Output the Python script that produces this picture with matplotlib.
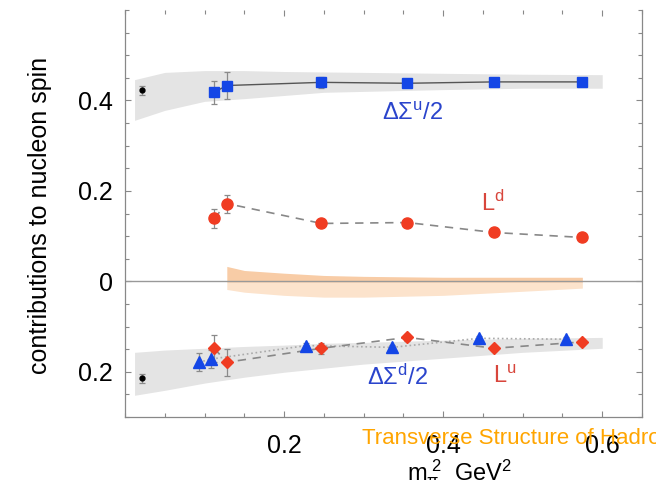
import matplotlib
matplotlib.use("Agg")
import matplotlib.pyplot as plt
from matplotlib.ticker import FixedLocator, MultipleLocator

plt.rcParams['font.family'] = ['Liberation Sans', 'DejaVu Sans']
plt.rcParams['mathtext.fontset'] = 'custom'
plt.rcParams['mathtext.rm'] = 'Liberation Sans'
plt.rcParams['mathtext.it'] = 'Liberation Sans:italic'

# ---- data ----
mpi2 = [0.112, 0.128, 0.247, 0.355, 0.464, 0.575]
sigma_u = [0.418, 0.433, 0.440, 0.438, 0.441, 0.441]
sigma_u_err = [0.025, 0.030, 0.012, 0.006, 0.006, 0.006]
L_d = [0.139, 0.172, 0.128, 0.130, 0.108, 0.097]
L_d_err = [0.020, 0.020, 0.006, 0.006, 0.006, 0.006]

mpi2_tri = [0.093, 0.108, 0.228, 0.336, 0.445, 0.555]
sigma_d = [-0.179, -0.172, -0.142, -0.146, -0.126, -0.128]
sigma_d_err = [0.020, 0.020, 0.006, 0.006, 0.006, 0.006]
L_u = [-0.148, -0.179, -0.148, -0.124, -0.148, -0.134]
L_u_err = [0.030, 0.030, 0.012, 0.008, 0.006, 0.006]

exp_x = [0.022, 0.022]
exp_y = [0.422, -0.214]
exp_err = [0.010, 0.010]

band_u_x = [0.012, 0.05, 0.1, 0.15, 0.2, 0.25, 0.3, 0.4, 0.5, 0.6]
band_u_hi = [0.446, 0.462, 0.466, 0.466, 0.464, 0.463, 0.462, 0.460, 0.458, 0.457]
band_u_lo = [0.356, 0.378, 0.398, 0.404, 0.411, 0.418, 0.420, 0.424, 0.427, 0.427]

band_d_x = [0.012, 0.05, 0.1, 0.15, 0.2, 0.25, 0.3, 0.4, 0.5, 0.6]
band_d_hi = [-0.157, -0.152, -0.148, -0.144, -0.141, -0.137, -0.135, -0.130, -0.126, -0.124]
band_d_lo = [-0.252, -0.241, -0.225, -0.212, -0.201, -0.192, -0.183, -0.170, -0.157, -0.148]

band_L_x = [0.128, 0.15, 0.2, 0.25, 0.3, 0.4, 0.5, 0.575]
band_L_hi = [0.033, 0.024, 0.018, 0.013, 0.011, 0.009, 0.009, 0.009]
band_L_mid = [-0.002, -0.002, -0.002, -0.002, -0.002, -0.002, -0.002, -0.002]
band_L_lo = [-0.018, -0.024, -0.031, -0.035, -0.035, -0.031, -0.022, -0.015]

yticks = [0.4, 0.2, 0.0, -0.2]
ytick_labels = ["0.4", "0.2", "0", "0.2"]
xticks = [0.2, 0.4, 0.6]
xtick_labels = ["0.2", "0.4", "0.6"]

# ---- figure ----
fig = plt.figure(figsize=(6.56, 4.8), dpi=100)
ax = fig.add_axes([125/656, 63/480, 517/656, 407/480])
ax.set_xlim(0, 0.65)
ax.set_ylim(-0.30, 0.60)

ax.fill_between(band_u_x, band_u_lo, band_u_hi, color='#e4e4e4', lw=0, zorder=1)
ax.fill_between(band_d_x, band_d_lo, band_d_hi, color='#e4e4e4', lw=0, zorder=1)
ax.fill_between(band_L_x, band_L_lo, band_L_mid, color='#fce3cc', lw=0, zorder=1)
ax.fill_between(band_L_x, band_L_mid, band_L_hi, color='#f8cca6', lw=0, zorder=1)

ax.axhline(0, color='#999999', lw=1.0, zorder=2)

eb = dict(ecolor='#8a8a8a', elinewidth=0.9, capsize=2, capthick=0.9, zorder=3, ls='none')
ax.plot(mpi2, sigma_u, '-', color='#555555', lw=1.0, zorder=2)
ax.errorbar(mpi2, sigma_u, yerr=sigma_u_err, fmt='s', color='#1446e6', ms=7, **eb)
ax.plot(mpi2, L_d, color='#888888', lw=1.2, ls=(0, (5, 4)), zorder=2)
ax.errorbar(mpi2, L_d, yerr=L_d_err, fmt='o', color='#f03c22', ms=8, **eb)
ax.plot(mpi2_tri, sigma_d, color='#aaaaaa', lw=1.2, ls=':', zorder=2)
ax.errorbar(mpi2_tri, sigma_d, yerr=sigma_d_err, fmt='^', color='#1446e6', ms=8, **eb)
ax.plot(mpi2, L_u, color='#888888', lw=1.2, ls=(0, (5, 4)), zorder=2)
ax.errorbar(mpi2, L_u, yerr=L_u_err, fmt='D', color='#f03c22', ms=6.5, **eb)
ax.errorbar(exp_x, exp_y, yerr=exp_err, fmt='o', color='black', ms=3.5, **eb)

# labels on plot
ax.text(0.361, 0.371, r'$\Delta\Sigma^{\rm u}/2$', color='#2a44cc', fontsize=17, ha='center', va='center')
ax.text(0.462, 0.172, r'$\rm L^{d}$', color='#d8463c', fontsize=17, ha='center', va='center')
ax.text(0.342, -0.212, r'$\Delta\Sigma^{\rm d}/2$', color='#2a44cc', fontsize=17, ha='center', va='center')
ax.text(0.478, -0.212, r'$\rm L^{u}$', color='#d8463c', fontsize=17, ha='center', va='center')

# axes styling
for side in ['left', 'bottom', 'right']:
    ax.spines[side].set_color('#888888')
    ax.spines[side].set_linewidth(0.9)
ax.spines['top'].set_visible(False)

ax.yaxis.set_major_locator(FixedLocator(yticks))
ax.set_yticklabels(ytick_labels)
ax.yaxis.set_minor_locator(MultipleLocator(0.05))
ax.xaxis.set_major_locator(FixedLocator(xticks))
ax.set_xticklabels(xtick_labels)
ax.xaxis.set_minor_locator(MultipleLocator(0.05))
ax.tick_params(which='both', direction='in', color='#888888', top=True, right=True,
               labelsize=18, width=0.8)
ax.tick_params(which='major', length=4)
ax.tick_params(which='minor', length=3)
ax.tick_params(axis='y', pad=9)
ax.tick_params(axis='x', pad=12)

fig.text(40/656, 0.5 + 25/480, 'contributions to nucleon spin', rotation=90,
         fontsize=18, ha='center', va='center')
fig.text(460/656, 0.0, r'$\rm m_{\pi}^{\ 2}\ \ GeV^{2}$', fontsize=17, ha='center', va='baseline')
fig.text(362/656, 36/480, 'Transverse Structure of Hadrons', color='#FFA500',
         fontsize=16, ha='left', va='baseline')

fig.savefig('out.png', dpi=100)
